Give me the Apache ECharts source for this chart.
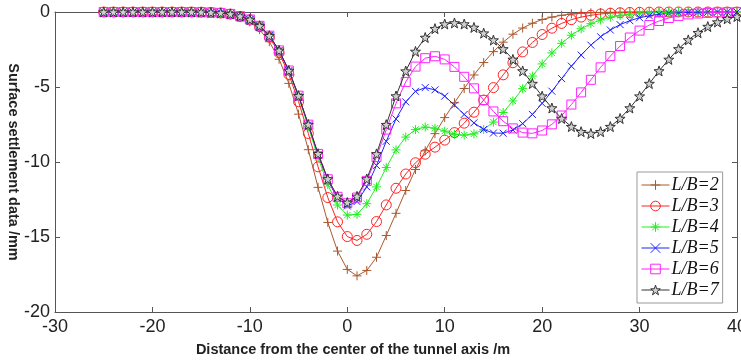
<!DOCTYPE html>
<html>
<head>
<meta charset="utf-8">
<script src="https://cdn.jsdelivr.net/npm/echarts@6/dist/echarts.min.js"></script>
<style>
html,body{margin:0;padding:0;background:#fff;}
#chart{width:741px;height:361px;}
</style>
</head>
<body>
<div id="chart"></div>
<script>
// Distance from tunnel axis (m)
const distances = [-25,-24,-23,-22,-21,-20,-19,-18,-17,-16,-15,-14,-13,-12,-11,-10,-9,-8,-7,-6,-5,-4,-3,-2,-1,0,1,2,3,4,5,6,7,8,9,10,11,12,13,14,15,16,17,18,19,20,21,22,23,24,25,26,27,28,29,30,31,32,33,34,35,36,37,38,39,40];

const seriesNames = ['L/B=2','L/B=3','L/B=4','L/B=5','L/B=6','L/B=7'];

// Settlement (mm)
const lb2 = [0,0,0,0,0,0,0,0,0,0,-0.02,-0.05,-0.09,-0.19,-0.38,-0.66,-1.18,-1.98,-3.15,-4.76,-6.81,-9.18,-11.69,-14.03,-15.94,-17.16,-17.59,-17.23,-16.35,-14.9,-13.42,-11.9,-10.5,-9.25,-8.11,-7.04,-6.05,-5.1,-4.2,-3.37,-2.64,-2.01,-1.48,-1.07,-0.75,-0.5,-0.34,-0.22,-0.13,-0.08,-0.05,-0.03,-0.02,-0.01,0,0,0,0,0,0,0,0,0,0,0,0];
const lb3 = [0,0,0,0,0,0,0,0,0,0,-0.01,-0.03,-0.07,-0.14,-0.30,-0.53,-0.98,-1.68,-2.72,-4.16,-5.98,-8.10,-10.32,-12.37,-13.99,-14.97,-15.23,-14.82,-13.97,-12.86,-11.75,-10.8,-10.05,-9.48,-9.01,-8.54,-8.04,-7.41,-6.68,-5.87,-5.04,-4.19,-3.38,-2.66,-2.03,-1.5,-1.08,-0.76,-0.51,-0.34,-0.22,-0.13,-0.08,-0.05,-0.03,-0.02,-0.01,0,0,0,0,0,0,0,0,0];
const lb4 = [0,0,0,0,0,0,0,0,0,0,-0.01,-0.03,-0.06,-0.13,-0.28,-0.51,-0.93,-1.60,-2.59,-3.96,-5.67,-7.65,-9.70,-11.51,-12.87,-13.54,-13.49,-12.78,-11.66,-10.37,-9.19,-8.34,-7.84,-7.67,-7.75,-7.94,-8.15,-8.21,-8.12,-7.83,-7.34,-6.70,-5.93,-5.11,-4.27,-3.46,-2.73,-2.09,-1.55,-1.12,-0.78,-0.53,-0.35,-0.23,-0.14,-0.08,-0.05,-0.03,-0.02,-0.01,0,0,0,0,0,0];
const lb5 = [0,0,0,0,0,0,0,0,0,0,-0.01,-0.03,-0.06,-0.13,-0.28,-0.50,-0.92,-1.58,-2.57,-3.91,-5.60,-7.53,-9.50,-11.21,-12.43,-12.93,-12.64,-11.66,-10.23,-8.62,-7.13,-5.99,-5.29,-5.04,-5.19,-5.61,-6.21,-6.83,-7.39,-7.83,-8.07,-8.08,-7.87,-7.44,-6.83,-6.09,-5.28,-4.44,-3.61,-2.87,-2.21,-1.65,-1.20,-0.84,-0.58,-0.38,-0.25,-0.15,-0.09,-0.06,-0.03,-0.02,-0.01,0,0,0];
const lb6 = [0,0,0,0,0,0,0,0,0,0,-0.01,-0.03,-0.06,-0.13,-0.28,-0.50,-0.92,-1.58,-2.56,-3.90,-5.58,-7.51,-9.46,-11.15,-12.32,-12.75,-12.37,-11.26,-9.67,-7.84,-6.09,-4.66,-3.64,-3.08,-2.95,-3.16,-3.66,-4.32,-5.09,-5.87,-6.63,-7.28,-7.76,-8.04,-8.09,-7.90,-7.49,-6.90,-6.17,-5.36,-4.52,-3.69,-2.94,-2.27,-1.70,-1.24,-0.87,-0.60,-0.40,-0.26,-0.16,-0.10,-0.06,-0.03,-0.02,-0.01];
const lb7 = [0,0,0,0,0,0,0,0,0,0,-0.01,-0.03,-0.06,-0.13,-0.28,-0.50,-0.92,-1.58,-2.56,-3.90,-5.58,-7.50,-9.45,-11.13,-12.29,-12.70,-12.29,-11.13,-9.46,-7.51,-5.60,-3.94,-2.63,-1.70,-1.11,-0.80,-0.73,-0.80,-1.03,-1.41,-1.87,-2.46,-3.16,-3.93,-4.77,-5.61,-6.40,-7.10,-7.64,-7.98,-8.10,-7.98,-7.64,-7.10,-6.40,-5.61,-4.77,-3.93,-3.16,-2.46,-1.86,-1.38,-0.97,-0.67,-0.45,-0.30];

const xTicks = [-30,-20,-10,0,10,20,30,40];
const yTicks = [-20,-15,-10,-5,0];

const allValues = [lb2, lb3, lb4, lb5, lb6, lb7];
const colors = ['#a9582e', '#ff2222', '#22ee22', '#2020ff', '#ff22ff', '#333333'];
const symbols = [
  'path://M0,5L10,5M5,0L5,10',
  'circle',
  'path://M5,0L5,10M0,5L10,5M1.5,1.5L8.5,8.5M8.5,1.5L1.5,8.5',
  'path://M0,0L10,10M10,0L0,10',
  'rect',
  'path://M5,0L6.18,3.38L9.76,3.46L6.9,5.62L7.94,9.05L5,7L2.06,9.05L3.1,5.62L0.24,3.46L3.82,3.38Z'
];
const sizes = [9, 10, 9, 7, 9, 10];
const fills = ['rgba(0,0,0,0)','rgba(0,0,0,0)','rgba(0,0,0,0)','rgba(0,0,0,0)','rgba(0,0,0,0)','#d0d0d0'];

const series = seriesNames.map((name, i) => ({
  name: name,
  type: 'line',
  xAxisIndex: 0,
  yAxisIndex: 0,
  data: distances.map((x, k) => [x, allValues[i][k]]),
  symbol: symbols[i],
  symbolSize: sizes[i],
  showAllSymbol: true,
  lineStyle: { color: colors[i], width: 1 },
  itemStyle: { color: fills[i], borderColor: colors[i], borderWidth: 1 },
  emphasis: { disabled: true },
  z: 2 + i
}));

const legendData = seriesNames.map((name, i) => ({
  name: name,
  itemStyle: { color: fills[i], borderColor: colors[i], borderWidth: 1 },
  lineStyle: { color: colors[i], width: 1 }
}));

const axisLineStyle = { color: '#555', width: 1 };
const labelStyle = { color: '#222', fontSize: 18, fontFamily: 'Liberation Sans, Arial, sans-serif' };

const chart = echarts.init(document.getElementById('chart'), null, { renderer: 'canvas' });
chart.setOption({
  animation: false,
  backgroundColor: '#fff',
  grid: { left: 55, right: 4, top: 12, bottom: 49, containLabel: false, outerBoundsMode: 'none' },
  legend: {
    orient: 'vertical',
    left: 637,
    top: 172,
    data: legendData,
    backgroundColor: '#fff',
    borderColor: '#999',
    borderWidth: 1,
    borderRadius: 0,
    padding: [4, 4, 4, 4],
    itemGap: 3,
    itemWidth: 28,
    itemHeight: 12,
    textStyle: { fontFamily: 'Liberation Serif, Times New Roman, serif', fontStyle: 'italic', fontSize: 18, color: '#111', padding: [0, 0, 0, -3] },
    selectedMode: false
  },
  xAxis: [{
    type: 'value',
    min: -30, max: 40, interval: 10,
    position: 'bottom',
    name: 'Distance from the center of the tunnel axis /m',
    nameLocation: 'middle',
    nameGap: 30,
    nameMoveOverlap: false,
    nameTextStyle: { fontSize: 14.5, fontWeight: 'bold', color: '#222', fontFamily: 'Liberation Sans, Arial, sans-serif', padding: [0, 86, 0, 0] },
    axisLine: { show: true, onZero: false, lineStyle: axisLineStyle },
    axisTick: { show: true, inside: true, length: 5, lineStyle: axisLineStyle },
    axisLabel: { show: true, margin: 6, ...labelStyle, formatter: v => xTicks.includes(v) ? String(v) : '' },
    splitLine: { show: false }
  }, {
    type: 'value',
    min: -30, max: 40, interval: 10,
    position: 'top',
    axisLine: { show: true, onZero: false, lineStyle: axisLineStyle },
    axisTick: { show: true, inside: true, length: 5, lineStyle: axisLineStyle },
    axisLabel: { show: false },
    splitLine: { show: false }
  }],
  yAxis: [{
    type: 'value',
    min: -20, max: 0, interval: 5,
    position: 'left',
    name: 'Surface settlement data /mm',
    nameLocation: 'middle',
    nameGap: 35,
    nameRotate: -90,
    nameMoveOverlap: false,
    nameTextStyle: { fontSize: 14.5, fontWeight: 'bold', color: '#222', fontFamily: 'Liberation Sans, Arial, sans-serif' },
    axisLine: { show: true, onZero: false, lineStyle: axisLineStyle },
    axisTick: { show: true, inside: true, length: 5, lineStyle: axisLineStyle },
    axisLabel: { show: true, margin: 5, ...labelStyle, formatter: v => yTicks.includes(v) ? String(v) : '' },
    splitLine: { show: false }
  }, {
    type: 'value',
    min: -20, max: 0, interval: 5,
    position: 'right',
    axisLine: { show: true, onZero: false, lineStyle: axisLineStyle },
    axisTick: { show: true, inside: true, length: 5, lineStyle: axisLineStyle },
    axisLabel: { show: false },
    splitLine: { show: false }
  }],
  series: series
});
</script>
</body>
</html>
